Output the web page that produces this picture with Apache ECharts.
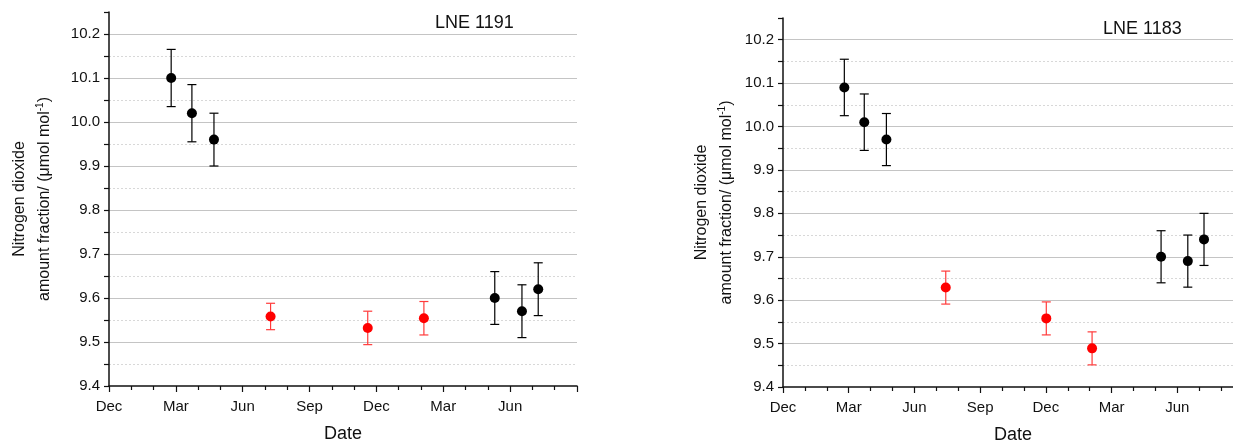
<!DOCTYPE html>
<html>
<head>
<meta charset="utf-8">
<script src="https://cdn.jsdelivr.net/npm/echarts@6/dist/echarts.min.js"></script>
<style>
html,body{margin:0;padding:0;background:#fff;}
#c{width:1233px;height:442px;}
</style>
</head>
<body>
<div id="c"></div>
<script>
// x values: months after the first "Dec" tick
const xTickLabels = ['Dec', 'Mar', 'Jun', 'Sep', 'Dec', 'Mar', 'Jun', 'Sep'];
const titles = ['LNE 1191', 'LNE 1183'];

const blackX1 = [2.79, 3.72, 4.71, 17.31, 18.53, 19.26];
const blackY1 = [10.10, 10.02, 9.96, 9.60, 9.57, 9.62];
const blackErr1 = [0.065, 0.065, 0.06, 0.06, 0.06, 0.06];
const redX1 = [7.25, 11.61, 14.13];
const redY1 = [9.558, 9.532, 9.554];
const redErr1 = [0.03, 0.038, 0.038];

const blackX2 = [2.80, 3.71, 4.72, 17.26, 18.48, 19.22];
const blackY2 = [10.09, 10.01, 9.97, 9.70, 9.69, 9.74];
const blackErr2 = [0.065, 0.065, 0.06, 0.06, 0.06, 0.06];
const redX2 = [7.43, 12.02, 14.11];
const redY2 = [9.629, 9.558, 9.489];
const redErr2 = [0.038, 0.038, 0.038];

const FONT = 'Liberation Sans, Arial, sans-serif';
const chart = echarts.init(document.getElementById('c'), null, {renderer: 'canvas'});

function pts(xs, ys) { return xs.map((x, i) => [x, ys[i]]); }
function errs(xs, ys, es) { return xs.map((x, i) => [x, ys[i] - es[i], ys[i] + es[i]]); }

function errRender(color) {
  return function (params, api) {
    const x = api.value(0);
    const lo = api.coord([x, api.value(1)]);
    const hi = api.coord([x, api.value(2)]);
    const hw = 4.5;
    const st = {stroke: color, lineWidth: 1.2};
    return {type: 'group', children: [
      {type: 'line', shape: {x1: lo[0], y1: lo[1], x2: hi[0], y2: hi[1]}, style: st},
      {type: 'line', shape: {x1: lo[0] - hw, y1: lo[1], x2: lo[0] + hw, y2: lo[1]}, style: st},
      {type: 'line', shape: {x1: hi[0] - hw, y1: hi[1], x2: hi[0] + hw, y2: hi[1]}, style: st}
    ]};
  };
}

const grids = [
  {left: 109, top: 12, right: 656, bottom: 56, containLabel: false, outerBoundsMode: 'none'},
  {left: 783, top: 18, right: -10, bottom: 55, containLabel: false, outerBoundsMode: 'none'}
];
const nameGaps = [52, 44];

const xAxes = [], yAxes = [], series = [];
const sets = [
  {bx: blackX1, by: blackY1, be: blackErr1, rx: redX1, ry: redY1, re: redErr1},
  {bx: blackX2, by: blackY2, be: blackErr2, rx: redX2, ry: redY2, re: redErr2}
];

for (let g = 0; g < 2; g++) {
  xAxes.push({
    gridIndex: g, type: 'value', min: 0, max: 21, interval: 3,
    name: 'Date', nameLocation: 'middle', nameGap: 39,
    nameTextStyle: {fontFamily: FONT, fontSize: 18, color: '#111'},
    axisLine: {show: true, onZero: false, lineStyle: {color: '#111', width: 1.5}},
    axisTick: {show: true, length: 6, inside: false, lineStyle: {color: '#111', width: 1.2}},
    minorTick: {show: true, splitNumber: 3, length: 4, lineStyle: {color: '#111', width: 1.2}},
    axisLabel: {show: true, margin: 13, fontFamily: FONT, fontSize: 15, color: '#111',
      showMaxLabel: false,
      formatter: v => xTickLabels[Math.round(v / 3)] || ''},
    splitLine: {show: false}
  });
  // main visible y axis (ticks every 0.05, labels every 0.1, dotted minor grid)
  yAxes.push({
    gridIndex: g, type: 'value', min: 9.4, max: 10.25, interval: 0.05,
    name: 'Nitrogen dioxide\namount fraction/ (\u03bcmol mol{sup|-1})',
    nameLocation: 'middle', nameGap: nameGaps[g], nameRotate: 90,
    nameTextStyle: {fontFamily: FONT, fontSize: 16, color: '#111', lineHeight: 25,
      rich: {sup: {fontFamily: FONT, fontSize: 10, color: '#111', padding: [0, 0, 9, 0]}}},
    axisLine: {show: true, onZero: false, lineStyle: {color: '#111', width: 1.5}},
    axisTick: {show: true, length: 5, lineStyle: {color: '#111', width: 1.2}},
    axisLabel: {show: true, margin: 9, fontFamily: FONT, fontSize: 15, color: '#111',
      formatter: v => (Math.round(v * 100) % 10 === 0 ? v.toFixed(1) : '')},
    splitLine: {show: true, showMinLine: false, showMaxLine: false,
      lineStyle: {color: '#d8d8d8', width: 1, type: [2, 2]}}
  });
  // hidden y axis only for the solid major grid lines
  yAxes.push({
    gridIndex: g, type: 'value', min: 9.4, max: 10.25, interval: 0.1, position: 'left',
    axisLine: {show: false}, axisTick: {show: false}, axisLabel: {show: false},
    splitLine: {show: true, showMinLine: false, showMaxLine: false,
      lineStyle: {color: '#c4c4c4', width: 1.2, type: 'solid'}}
  });
  const s = sets[g];
  const yi = g * 2;
  series.push({type: 'custom', xAxisIndex: g, yAxisIndex: yi, renderItem: errRender('#000'),
    data: errs(s.bx, s.by, s.be), z: 3, silent: true});
  series.push({type: 'custom', xAxisIndex: g, yAxisIndex: yi, renderItem: errRender('#ff3b3b'),
    data: errs(s.rx, s.ry, s.re), z: 3, silent: true});
  series.push({type: 'scatter', xAxisIndex: g, yAxisIndex: yi, symbol: 'circle', symbolSize: 10,
    itemStyle: {color: '#000', opacity: 1}, data: pts(s.bx, s.by), z: 4});
  series.push({type: 'scatter', xAxisIndex: g, yAxisIndex: yi, symbol: 'circle', symbolSize: 10,
    itemStyle: {color: '#ff0000', opacity: 1}, data: pts(s.rx, s.ry), z: 4});
}

chart.setOption({
  animation: false,
  backgroundColor: '#fff',
  title: [
    {text: titles[0], left: 430, top: 9, textStyle: {fontFamily: FONT, fontSize: 18, fontWeight: 'normal', color: '#111'}},
    {text: titles[1], left: 1098, top: 15, textStyle: {fontFamily: FONT, fontSize: 18, fontWeight: 'normal', color: '#111'}}
  ],
  grid: grids,
  xAxis: xAxes,
  yAxis: yAxes,
  series: series
});
</script>
</body>
</html>
